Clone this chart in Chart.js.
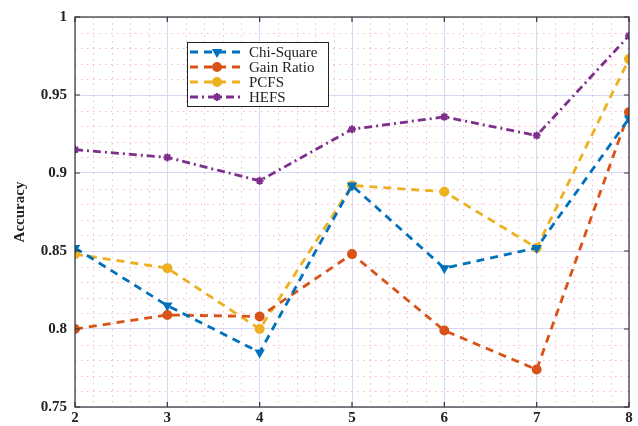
<!DOCTYPE html>
<html>
<head>
<meta charset="utf-8">
<script src="https://cdn.jsdelivr.net/npm/chart.js@4/dist/chart.umd.min.js"></script>
<style>
  html, body { margin: 0; padding: 0; background: #fff; }
  #wrap { width: 638px; height: 426px; }
</style>
</head>
<body>
<div id="wrap"><canvas id="chart" width="638" height="426"></canvas></div>
<script>
var features = [2, 3, 4, 5, 6, 7, 8];
var chiSquare = [0.852, 0.815, 0.785, 0.892, 0.839, 0.852, 0.935];
var gainRatio = [0.800, 0.809, 0.808, 0.848, 0.799, 0.774, 0.939];
var pcfs = [0.848, 0.839, 0.800, 0.892, 0.888, 0.852, 0.973];
var hefs = [0.915, 0.910, 0.895, 0.928, 0.936, 0.924, 0.988];
var yTicks = [0.75, 0.8, 0.85, 0.9, 0.95, 1];

var serif = "'Liberation Serif', 'Times New Roman', serif";

function points(values) {
  return values.map((v, i) => ({ x: features[i], y: v }));
}

function makeSet(label, values, color, style, dash, rot) {
  return {
    label: label,
    data: points(values),
    borderColor: color,
    backgroundColor: color,
    borderWidth: 2.8,
    borderDash: dash,
    pointStyle: style,
    pointRotation: rot || 0,
    pointRadius: 4,
    pointBorderWidth: 2,
    pointBorderColor: color,
    tension: 0,
    fill: false,
  };
}

var datasets = [
  makeSet("Chi-Square", chiSquare, "#0072BD", "triangle", [8, 6], 180),
  makeSet("Gain Ratio", gainRatio, "#D95319", "circle", [8, 6]),
  makeSet("PCFS", pcfs, "#EDB120", "circle", [8, 6]),
  makeSet("HEFS", hefs, "#7E2F8E", "star", [8, 4, 2, 4]),
];

// minor dotted grid, inward ticks and box like the original figure
var framePlugin = {
  id: "frame",
  beforeDatasetsDraw(chart) {
    var ctx = chart.ctx;
    var a = chart.chartArea;
    var xs = chart.scales.x;
    var ys = chart.scales.y;
    ctx.save();
    ctx.strokeStyle = "rgba(240,150,175,0.65)";
    ctx.lineWidth = 1;
    ctx.setLineDash([1.5, 4.5]);
    for (var i = 0; i <= 30; i++) {
      if (i % 5 === 0) continue;
      var px = Math.round(xs.getPixelForValue(2 + i * 0.2)) + 0.5;
      ctx.beginPath();
      ctx.moveTo(px, a.top);
      ctx.lineTo(px, a.bottom);
      ctx.stroke();
    }
    for (var j = 0; j <= 25; j++) {
      if (j % 5 === 0) continue;
      var py = Math.round(ys.getPixelForValue(0.75 + j * 0.01)) + 0.5;
      ctx.beginPath();
      ctx.moveTo(a.left, py);
      ctx.lineTo(a.right, py);
      ctx.stroke();
    }
    ctx.restore();
  },
  afterDatasetsDraw(chart) {
    var ctx = chart.ctx;
    var a = chart.chartArea;
    var xs = chart.scales.x;
    var ys = chart.scales.y;
    ctx.save();
    ctx.strokeStyle = "#333";
    ctx.lineWidth = 1.2;
    ctx.setLineDash([]);
    ctx.strokeRect(a.left, a.top, a.right - a.left, a.bottom - a.top);
    ctx.beginPath();
    features.forEach((f) => {
      var px = xs.getPixelForValue(f);
      ctx.moveTo(px, a.bottom);
      ctx.lineTo(px, a.bottom - 5);
      ctx.moveTo(px, a.top);
      ctx.lineTo(px, a.top + 5);
    });
    yTicks.forEach((t) => {
      var py = ys.getPixelForValue(t);
      ctx.moveTo(a.left, py);
      ctx.lineTo(a.left + 5, py);
      ctx.moveTo(a.right, py);
      ctx.lineTo(a.right - 5, py);
    });
    ctx.stroke();
    ctx.restore();
  },
  afterDraw(chart) {
    // legend box inside the plot
    var ctx = chart.ctx;
    var bx = 187, by = 42, bw = 141, bh = 64;
    ctx.save();
    ctx.fillStyle = "#fff";
    ctx.fillRect(bx, by, bw, bh);
    ctx.strokeStyle = "#222";
    ctx.lineWidth = 1;
    ctx.strokeRect(bx + 0.5, by + 0.5, bw, bh);
    ctx.font = "15px " + serif;
    ctx.textBaseline = "middle";
    chart.data.datasets.forEach((ds, i) => {
      var y = by + 10 + i * 15;
      ctx.strokeStyle = ds.borderColor;
      ctx.lineWidth = 2.8;
      ctx.setLineDash(ds.borderDash);
      ctx.beginPath();
      ctx.moveTo(bx + 3, y);
      ctx.lineTo(bx + 55, y);
      ctx.stroke();
      ctx.setLineDash([]);
      ctx.fillStyle = ds.borderColor;
      ctx.lineWidth = 2;
      Chart.helpers.drawPoint(ctx, {
        pointStyle: ds.pointStyle,
        rotation: ds.pointRotation,
        radius: 4,
        borderWidth: 2,
      }, bx + 30, y);
      ctx.fillStyle = "#222";
      ctx.fillText(ds.label, bx + 62, y + 1);
    });
    ctx.restore();
  },
};

new Chart(document.getElementById("chart"), {
  type: "line",
  data: { datasets: datasets },
  options: {
    responsive: false,
    animation: false,
    layout: { padding: { top: 16, right: 9, left: 0, bottom: 0 } },
    plugins: {
      legend: { display: false },
      tooltip: { enabled: false },
    },
    scales: {
      x: {
        type: "linear",
        min: 2,
        max: 8,
        ticks: {
          stepSize: 1,
          color: "#222",
          font: { family: serif, size: 15, weight: "bold" },
          padding: 2,
          maxRotation: 0,
        },
        grid: { color: "#d8d8fa", lineWidth: 1, drawTicks: false },
        border: { display: false },
        afterFit: (s) => { s.height = 19; },
      },
      y: {
        type: "linear",
        min: 0.75,
        max: 1,
        ticks: {
          stepSize: 0.05,
          color: "#222",
          font: { family: serif, size: 15, weight: "bold" },
          padding: 8,
          callback: (v) => String(+v.toFixed(2)),
        },
        grid: { color: "#d8d8fa", lineWidth: 1, drawTicks: false },
        border: { display: false },
        title: {
          display: true,
          text: "Accuracy",
          color: "#222",
          font: { family: serif, size: 15, weight: "bold" },
          padding: { top: 11, bottom: 0 },
        },
        afterFit: (s) => { s.width = 75; },
      },
    },
  },
  plugins: [framePlugin],
});
</script>
</body>
</html>
